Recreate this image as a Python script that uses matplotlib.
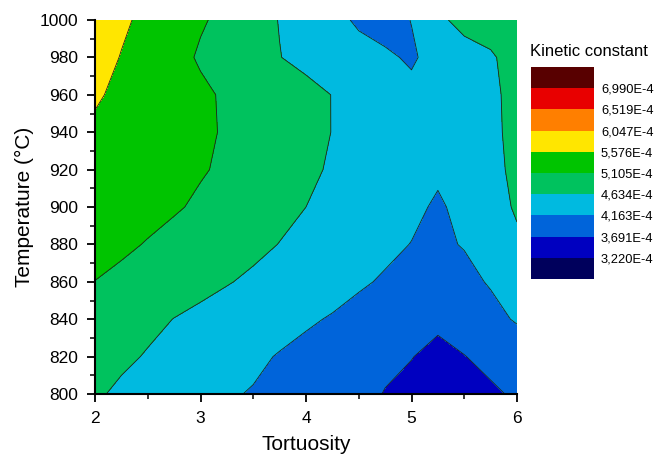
"""
Kinetic constant contour map over tortuosity and temperature
"""

import numpy as np
import matplotlib.pyplot as plt
from matplotlib.ticker import MultipleLocator

plt.rcParams['font.family'] = ['Liberation Sans', 'DejaVu Sans']

# grid
tortuosity = [2.00, 2.25, 2.50, 2.75, 3.00, 3.25, 3.50, 3.75, 4.00,
              4.25, 4.50, 4.75, 5.00, 5.25, 5.50, 5.75, 6.00]
temperature = [800, 820, 840, 860, 880, 900, 920, 940, 960, 980, 1000]

# kinetic constant, units of 1E-4, one row per temperature
k_800 = [4.705, 4.540, 4.446, 4.351, 4.281, 4.201, 4.139, 4.092, 4.045,
         3.974, 3.856, 3.668, 3.597, 3.550, 3.559, 3.635, 3.739]
k_820 = [4.846, 4.729, 4.597, 4.483, 4.399, 4.328, 4.234, 4.139, 4.045,
         3.974, 3.904, 3.809, 3.701, 3.597, 3.682, 3.786, 3.856]
k_840 = [4.974, 4.870, 4.752, 4.625, 4.516, 4.446, 4.375, 4.304, 4.219,
         4.130, 4.021, 3.927, 3.833, 3.762, 3.856, 4.021, 4.210]
k_860 = [5.100, 5.011, 4.941, 4.870, 4.776, 4.658, 4.564, 4.469, 4.399,
         4.328, 4.219, 4.116, 4.021, 3.974, 4.045, 4.201, 4.399]
k_880 = [5.247, 5.176, 5.082, 4.988, 4.893, 4.813, 4.729, 4.625, 4.516,
         4.422, 4.342, 4.257, 4.153, 4.092, 4.186, 4.375, 4.564]
k_900 = [5.365, 5.294, 5.224, 5.143, 5.049, 4.941, 4.832, 4.738, 4.634,
         4.540, 4.446, 4.351, 4.257, 4.106, 4.281, 4.469, 4.681]
k_920 = [5.459, 5.398, 5.332, 5.256, 5.134, 5.049, 4.941, 4.846, 4.719,
         4.587, 4.493, 4.399, 4.328, 4.234, 4.328, 4.516, 4.729]
k_940 = [5.520, 5.459, 5.388, 5.318, 5.190, 5.058, 4.964, 4.870, 4.776,
         4.625, 4.493, 4.399, 4.304, 4.304, 4.375, 4.540, 4.752]
k_960 = [5.615, 5.506, 5.436, 5.341, 5.200, 5.035, 4.941, 4.846, 4.766,
         4.625, 4.469, 4.351, 4.257, 4.304, 4.399, 4.540, 4.776]
k_980 = [5.813, 5.553, 5.436, 5.271, 5.049, 4.917, 4.776, 4.644, 4.516,
         4.399, 4.304, 4.219, 4.116, 4.304, 4.446, 4.578, 4.823]
k_1000 = [6.001, 5.671, 5.436, 5.318, 5.153, 4.988, 4.799, 4.620, 4.446,
          4.281, 4.106, 4.021, 4.172, 4.540, 4.776, 4.846, 4.917]

# colour scale (units of 1E-4), outer two only close the end boxes
levels = [2.749, 3.220, 3.691, 4.163, 4.634, 5.105, 5.576, 6.047, 6.519, 6.990, 7.461]
level_labels = ['3,220E-4', '3,691E-4', '4,163E-4', '4,634E-4', '5,105E-4',
                '5,576E-4', '6,047E-4', '6,519E-4', '6,990E-4']
colors = ['#00005c', '#0000c0', '#0064da', '#00bae0', '#00c25e',
          '#00c400', '#ffe600', '#ff7f00', '#e80000', '#580000']


if __name__ == "__main__":
    Z = np.array([k_800, k_820, k_840, k_860, k_880, k_900,
                  k_920, k_940, k_960, k_980, k_1000]) * 1e-4
    X, Y = np.meshgrid(tortuosity, temperature)
    lv = np.array(levels) * 1e-4

    fig = plt.figure(figsize=(6.57, 4.55), dpi=100)
    ax = fig.add_axes([95 / 657, 61 / 455, 422 / 657, 374 / 455])

    cf = ax.contourf(X, Y, Z, levels=lv, colors=colors)
    ax.contour(X, Y, Z, levels=lv[1:-1], colors='#202020', linewidths=0.6)

    ax.set_xlim(2, 6)
    ax.set_ylim(800, 1000)
    ax.xaxis.set_major_locator(MultipleLocator(1))
    ax.xaxis.set_minor_locator(MultipleLocator(0.5))
    ax.yaxis.set_major_locator(MultipleLocator(20))
    ax.yaxis.set_minor_locator(MultipleLocator(10))
    ax.tick_params(which='major', direction='out', length=6, width=1.3,
                   labelsize=12.5, pad=6)
    ax.tick_params(which='minor', direction='out', length=3.5, width=1.1)
    for side in ['top', 'right']:
        ax.spines[side].set_visible(False)
    for side in ['left', 'bottom']:
        ax.spines[side].set_linewidth(1.5)

    ax.set_xlabel('Tortuosity', fontsize=15, labelpad=7)
    ax.set_ylabel('Temperature (°C)', fontsize=15, labelpad=4)

    # legend boxes with labels on the boundaries
    cax = fig.add_axes([531 / 657, 176 / 455, 63 / 657, 212 / 455])
    cb = fig.colorbar(cf, cax=cax, ticks=lv[1:-1])
    cb.ax.set_yticklabels(level_labels)
    cb.ax.tick_params(length=0, labelsize=9.3, pad=5)
    cb.outline.set_visible(False)
    fig.text(530 / 657, 1 - 52 / 455, 'Kinetic constant', fontsize=12,
             ha='left', va='center')

    plt.savefig('out.png', dpi=100)
